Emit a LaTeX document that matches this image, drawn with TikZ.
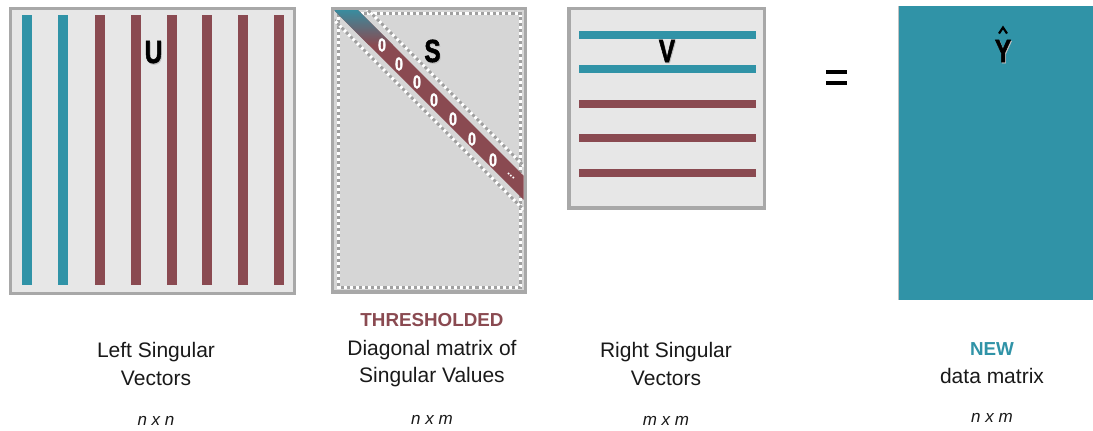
\documentclass[tikz,border=0pt]{standalone}
\usepackage{fontspec}
\setmainfont{Liberation Sans}
\newfontfamily\condbold[FakeStretch=0.76,FakeBold=1.6]{Liberation Sans Bold}
\newfontfamily\plainbold{Liberation Sans Bold}
\definecolor{tealc}{RGB}{48,147,167}
\definecolor{redc}{RGB}{138,74,81}
\definecolor{boxfill}{RGB}{231,231,231}
\definecolor{sfill}{RGB}{214,214,214}
\definecolor{boxedge}{RGB}{168,168,168}
\definecolor{dotc}{RGB}{160,160,160}
\definecolor{txt}{RGB}{25,25,25}
\tikzset{
  mbox/.style={fill=boxfill, draw=boxedge, line width=2.6pt},
  tealbar/.style={draw=tealc, line width=7.5pt},
  redbar/.style={draw=redc, line width=7.5pt},
  hbar/.style={line width=6.4pt},
  bigletter/.style={font=\condbold\fontsize{24}{24}\selectfont, anchor=base, inner sep=0pt, text=black},
  lshadow/.style={bigletter, text=black!25},
  caption/.style={font=\fontsize{15.75}{18}\selectfont, anchor=base, inner sep=0pt, text=txt},
  keyword/.style={font=\plainbold\fontsize{14.1}{18}\selectfont, anchor=base, inner sep=0pt},
  dims/.style={font=\itshape\fontsize{12.75}{14}\selectfont, anchor=base, inner sep=0pt, text=txt},
  zero/.style={font=\condbold\fontsize{14}{14}\selectfont, text=white, inner sep=0pt},
  dotline/.style={dotc, line width=2.3pt, dash pattern=on 2.3pt off 2.3pt},
  whiteline/.style={white, line width=2.3pt}
}
\begin{document}
\begin{tikzpicture}[x=0.75pt,y=-0.75pt]
\useasboundingbox (0,0) rectangle (1093,430);

% ---------- U ----------
\draw[mbox] (10.7,8.7) rectangle (294.5,293.5);
\foreach \x in {27,63} \draw[tealbar] (\x,15) -- (\x,285);
\foreach \x in {100,136,172,207,243,279} \draw[redbar] (\x,15) -- (\x,285);
\node[lshadow] (Ush) at (154.3,64.2) {U};
\node[bigletter] (U) at (153.5,63) {U};

% ---------- S ----------
\draw[fill=sfill, draw=boxedge, line width=2.6pt] (332.7,8.7) rectangle (525.5,292);
\draw[whiteline] (338.5,13.5) rectangle (520.5,287.5);
\draw[dotline] (338.5,13.5) rectangle (520.5,287.5);
\begin{scope}
  \clip (334.5,10.5) rectangle (523.7,290.2);
  % dotted guides along the band
  \draw[whiteline] (338,-20) -- (658,300);
  \draw[dotline] (338,-20) -- (658,300);
  \draw[whiteline] (294,-20) -- (614,300);
  \draw[dotline] (294,-20) -- (614,300);
  % band
  \fill[redc] (312,-12) -- (336,-12) -- (636,288) -- (612,288) -- cycle;
  \shade[top color=tealc, bottom color=redc] (330,6) -- (354,6) -- (393,45) -- (369,45) -- cycle;
  \fill[tealc] (312,-12) -- (336,-12) -- (354,6) -- (330,6) -- cycle;
\end{scope}
\node[zero] (z1) at (382,45) {0};
\node[zero] (z2) at (399,64) {0};
\node[zero] (z3) at (417,82) {0};
\node[zero] (z4) at (434,100) {0};
\node[zero] (z5) at (453,119) {0};
\node[zero] (z6) at (472,139) {0};
\node[zero] (z7) at (493,160) {0};
\node[zero, rotate=-45, font=\plainbold\fontsize{9}{9}\selectfont] (zdots) at (511,176) {...};
\node[lshadow] (Ssh) at (433.3,63.2) {S};
\node[bigletter] (S) at (432.5,62) {S};

% ---------- V ----------
\draw[mbox] (568.8,8.7) rectangle (764.5,207.8);
\foreach \y in {35,69} \draw[hbar, tealc] (579,\y) -- (756,\y);
\foreach \y in {104,138,173} \draw[hbar, redc] (579,\y) -- (756,\y);
\node[lshadow] (Vsh) at (667.8,63.2) {V};
\node[bigletter] (V) at (667,62) {V};

% ---------- = ----------
\draw[line width=3pt, black] (826,72) -- (847,72);
\draw[line width=3pt, black] (826,83) -- (847,83);
\coordinate (eq) at (836,77);

% ---------- Y hat ----------
\fill[tealc] (898,6) rectangle (1093,300);
\draw[boxedge!70, line width=0.6pt] (898.4,6) -- (898.4,300);
\node[lshadow] (Ysh) at (1003.8,63.2) {Y};
\node[bigletter] (Y) at (1003,62) {Y};
\draw[black, line width=1.6pt, line join=miter] (999,33.5) -- (1003,27.5) -- (1007,33.5);

% ---------- captions ----------
\node[caption] (c1a) at (156,357) {Left Singular};
\node[caption] (c1b) at (156,385) {Vectors};
\node[dims] (d1) at (156,425) {n x n};

\node[keyword, text=redc] (c2k) at (432,326) {THRESHOLDED};
\node[caption] (c2a) at (432,355) {Diagonal matrix of};
\node[caption] (c2b) at (432,382) {Singular Values};
\node[dims] (d2) at (432,424) {n x m};

\node[caption] (c3a) at (666,357) {Right Singular};
\node[caption] (c3b) at (666,385) {Vectors};
\node[dims] (d3) at (666,425) {m x m};

\node[keyword, text=tealc] (c4k) at (992,355) {NEW};
\node[caption] (c4a) at (992,383) {data matrix};
\node[dims] (d4) at (992,422) {n x m};
\end{tikzpicture}
\end{document}
